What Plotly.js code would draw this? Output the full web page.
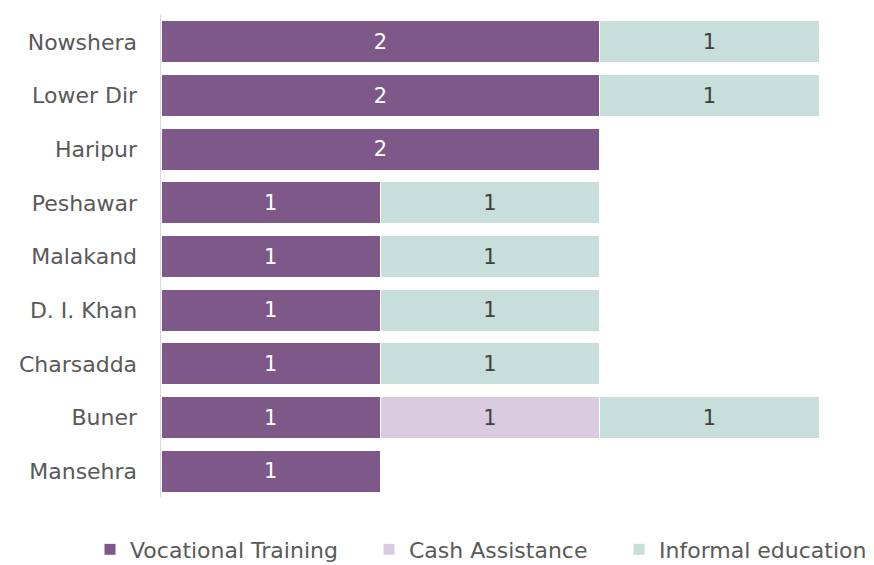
<!DOCTYPE html>
<html>
<head>
<meta charset="utf-8">
<script src="https://cdn.plot.ly/plotly-3.0.1.min.js"></script>
<style>html,body{margin:0;padding:0;background:#fff;}#chart{width:874px;height:565px;}</style>
</head>
<body>
<div id="chart"></div>
<script>
const districts = ["Nowshera","Lower Dir","Haripur","Peshawar","Malakand","D. I. Khan","Charsadda","Buner","Mansehra"];
const vocationalTraining = [2,2,2,1,1,1,1,1,1];
const cashAssistance = [null,null,null,null,null,null,null,1,null];
const informalEducation = [1,1,null,1,1,1,1,1,null];

const FONT = "DejaVu Sans, Liberation Sans, Arial, sans-serif";
function mk(name, vals, color, textColor, legendId){
  return {
    type:"bar", orientation:"h", name:name, y:districts, x:vals,
    marker:{color:color, line:{color:"#ffffff", width:1}},
    text: vals.map(v => v==null ? "" : String(v)),
    texttemplate:"%{text}", textposition:"inside", insidetextanchor:"middle",
    textfont:{family:FONT, size:21, color:textColor},
    legend: legendId,
    hoverinfo:"x+y+name"
  };
}
const data = [
  mk("Vocational Training", vocationalTraining, "#7E5888", "#ffffff", "legend"),
  mk("Cash Assistance", cashAssistance, "#D9CCE0", "#404040", "legend2"),
  mk("Informal education", informalEducation, "#C7DEDA", "#404040", "legend3")
];
function leg(xpx){
  return {orientation:"h", xref:"container", yref:"container", x:xpx/874, xanchor:"left",
          y:1-549.5/565, yanchor:"middle", bgcolor:"rgba(0,0,0,0)",
          font:{family:FONT, size:22, color:"#595959"}, itemwidth:30};
}
const layout = {
  width:874, height:565,
  margin:{l:161, r:55, t:15, b:67},
  barmode:"stack", bargap:0.22,
  paper_bgcolor:"#ffffff", plot_bgcolor:"#ffffff",
  font:{family:FONT, color:"#595959", size:22},
  xaxis:{range:[0,3], showgrid:false, zeroline:false, showticklabels:false, showline:false, fixedrange:true},
  yaxis:{autorange:"reversed", showgrid:false, zeroline:false, showline:true, linecolor:"#D9D9D9", linewidth:1.5,
         ticks:"", ticklabelstandoff:18, tickfont:{family:FONT, size:22, color:"#595959"}},
  showlegend:true,
  legend: leg(90),
  legend2: leg(369),
  legend3: leg(619)
};
Plotly.newPlot("chart", data, layout, {displayModeBar:false, staticPlot:true});
</script>
</body>
</html>
